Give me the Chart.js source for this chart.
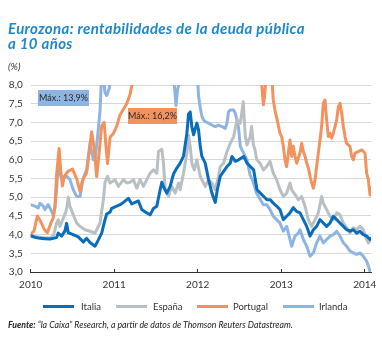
<!DOCTYPE html>
<html>
<head>
<meta charset="utf-8">
<script src="https://cdn.jsdelivr.net/npm/chart.js@4.4.1/dist/chart.umd.min.js"></script>
<style>
  html, body { margin: 0; padding: 0; background: #ffffff; }
  #wrap { position: relative; width: 382px; height: 338px; overflow: hidden; font-family: Lato, "Open Sans", sans-serif; }
  #c { position: absolute; left: 0; top: 0; }
  #title { position: absolute; left: 8px; top: 21px; font-weight: bold; font-style: italic; font-size: 15px; letter-spacing: 0.35px; line-height: 15px; color: #1f88cc; white-space: nowrap; }
  #unit { position: absolute; left: 8px; top: 60px; font-style: italic; font-size: 10px; color: #333; }
  .box { position: absolute; font-size: 9px; color: #2a2a2a; text-align: center; line-height: 16px; white-space: nowrap; }
  #legend { position: absolute; top: 300px; left: 0; width: 382px; height: 14px; font-size: 9.5px; color: #333; }
  .li { position: absolute; top: 0; height: 14px; line-height: 14px; white-space: nowrap; }
  .sw { position: absolute; top: 5px; width: 31px; height: 3px; }
  #foot { position: absolute; left: 8px; top: 319px; font-style: italic; font-size: 9.5px; color: #222; white-space: nowrap; transform: scaleX(0.92); transform-origin: left top; }
</style>
</head>
<body>
<div id="wrap">
  <canvas id="c" width="382" height="338"></canvas>
  <div id="title">Eurozona: rentabilidades de la deuda pública<br>a 10 años</div>
  <div id="unit">(%)</div>
  <div class="box" id="box1" style="left:38px; top:90px; width:51px; height:16px; background:#8db4e2;">Máx.: 13,9%</div>
  <div class="box" id="box2" style="left:128px; top:108px; width:49px; height:16px; background:#f4925e;">Máx.: 16,2%</div>
  <div id="legend"></div>
  <div id="foot"><b>Fuente:</b> “la Caixa” Research, a partir de datos de Thomson Reuters Datastream.</div>
</div>
<script>
// ---- Data (decimal year, yield %) ----
const seriesNames = ["Italia", "España", "Portugal", "Irlanda"];
const yearTicks = [2010, 2011, 2012, 2013, 2014];
const yTicks = [3.0, 3.5, 4.0, 4.5, 5.0, 5.5, 6.0, 6.5, 7.0, 7.5, 8.0];

const italia = [
[2010.00,3.97],[2010.05,3.93],[2010.11,3.90],[2010.17,3.89],[2010.23,3.88],[2010.27,3.90],[2010.31,3.92],[2010.33,4.04],[2010.37,3.96],[2010.41,4.10],[2010.43,4.30],[2010.45,4.05],[2010.51,4.00],[2010.57,3.94],[2010.63,3.80],[2010.67,3.90],[2010.71,3.79],[2010.77,3.69],[2010.81,3.86],[2010.85,4.04],[2010.89,4.40],[2010.91,4.55],[2010.95,4.60],[2010.97,4.70],[2011.03,4.76],[2011.07,4.80],[2011.11,4.86],[2011.17,4.97],[2011.21,4.82],[2011.25,4.86],[2011.29,4.90],[2011.33,4.67],[2011.39,4.58],[2011.43,4.53],[2011.47,4.70],[2011.51,4.76],[2011.55,5.20],[2011.57,5.40],[2011.59,5.28],[2011.63,5.11],[2011.67,5.29],[2011.71,5.62],[2011.75,5.78],[2011.79,5.91],[2011.83,6.10],[2011.87,6.70],[2011.89,7.22],[2011.91,7.28],[2011.93,6.88],[2011.95,6.67],[2011.99,6.98],[2012.01,6.80],[2012.03,6.36],[2012.05,6.09],[2012.09,5.91],[2012.13,5.47],[2012.17,5.11],[2012.19,4.98],[2012.21,4.86],[2012.235,5.20],[2012.27,5.56],[2012.31,5.69],[2012.35,5.82],[2012.39,5.91],[2012.41,6.09],[2012.45,5.96],[2012.49,6.00],[2012.55,6.09],[2012.59,5.91],[2012.63,5.82],[2012.67,5.73],[2012.71,5.20],[2012.75,5.11],[2012.79,5.02],[2012.83,4.93],[2012.87,4.93],[2012.905,4.84],[2012.945,4.76],[2012.985,4.67],[2013.025,4.40],[2013.065,4.49],[2013.105,4.58],[2013.145,4.72],[2013.185,4.62],[2013.225,4.58],[2013.265,4.40],[2013.305,4.22],[2013.345,3.96],[2013.385,4.13],[2013.424,4.22],[2013.464,4.40],[2013.504,4.31],[2013.544,4.22],[2013.584,4.31],[2013.624,4.49],[2013.664,4.40],[2013.704,4.31],[2013.744,4.22],[2013.783,4.13],[2013.823,4.09],[2013.863,4.13],[2013.903,4.04],[2013.943,4.09],[2013.983,4.00],[2014.023,3.96],[2014.063,3.87],[2014.071,3.90]
];

const espana = [
[2010.00,3.96],[2010.05,3.95],[2010.11,3.93],[2010.17,3.91],[2010.23,3.91],[2010.27,3.96],[2010.31,4.31],[2010.33,4.40],[2010.35,4.22],[2010.39,4.44],[2010.43,4.67],[2010.45,5.00],[2010.47,4.76],[2010.51,4.53],[2010.55,4.31],[2010.59,4.22],[2010.65,4.13],[2010.71,4.09],[2010.77,4.04],[2010.83,4.31],[2010.87,4.93],[2010.89,5.40],[2010.92,5.56],[2010.95,5.38],[2011.01,5.47],[2011.05,5.29],[2011.11,5.47],[2011.15,5.38],[2011.19,5.40],[2011.23,5.47],[2011.27,5.24],[2011.31,5.47],[2011.35,5.29],[2011.39,5.47],[2011.43,5.64],[2011.47,5.73],[2011.51,5.64],[2011.53,6.22],[2011.57,6.28],[2011.59,5.91],[2011.61,5.20],[2011.65,5.02],[2011.69,5.29],[2011.73,5.11],[2011.77,5.38],[2011.79,5.20],[2011.83,5.64],[2011.87,6.18],[2011.89,6.65],[2011.91,6.36],[2011.93,5.91],[2011.96,5.73],[2011.99,6.00],[2012.03,5.56],[2012.05,5.47],[2012.09,5.29],[2012.13,5.47],[2012.17,5.38],[2012.21,5.20],[2012.25,5.56],[2012.27,5.82],[2012.31,5.91],[2012.35,6.22],[2012.39,6.44],[2012.43,6.62],[2012.47,7.07],[2012.51,6.98],[2012.545,7.55],[2012.57,6.62],[2012.59,6.40],[2012.626,6.60],[2012.646,6.89],[2012.666,6.40],[2012.686,6.27],[2012.706,6.00],[2012.746,5.91],[2012.786,5.73],[2012.826,5.82],[2012.866,5.96],[2012.905,5.64],[2012.945,5.47],[2012.985,5.20],[2013.025,5.02],[2013.065,5.11],[2013.105,5.38],[2013.125,5.20],[2013.165,5.07],[2013.205,4.93],[2013.245,5.02],[2013.285,4.76],[2013.325,4.40],[2013.365,4.22],[2013.405,4.40],[2013.444,4.58],[2013.484,5.02],[2013.504,4.84],[2013.544,4.67],[2013.584,4.49],[2013.624,4.40],[2013.664,4.58],[2013.704,4.53],[2013.744,4.31],[2013.783,4.18],[2013.823,4.04],[2013.863,4.18],[2013.903,4.13],[2013.943,4.22],[2013.983,4.13],[2014.023,3.87],[2014.043,3.78],[2014.071,3.85]
];

const portugal = [
[2010.00,4.00],[2010.04,4.10],[2010.08,4.50],[2010.12,4.35],[2010.16,4.15],[2010.20,4.05],[2010.24,4.30],[2010.27,4.45],[2010.29,4.75],[2010.31,5.60],[2010.34,6.30],[2010.36,5.70],[2010.38,5.30],[2010.40,5.55],[2010.45,5.70],[2010.50,5.75],[2010.55,5.50],[2010.59,5.15],[2010.62,5.45],[2010.67,5.65],[2010.70,6.20],[2010.73,6.75],[2010.76,6.30],[2010.79,5.55],[2010.82,6.20],[2010.85,6.90],[2010.88,7.00],[2010.90,6.40],[2010.92,5.90],[2010.95,6.60],[2010.99,6.70],[2011.03,6.90],[2011.07,7.20],[2011.11,7.35],[2011.15,7.50],[2011.19,7.75],[2011.22,8.10],[2011.26,8.60],[2011.35,9.50],[2011.45,10.50],[2011.55,11.00],[2011.65,11.50],[2011.75,12.00],[2011.85,12.50],[2011.95,13.50],[2012.08,16.20],[2012.15,14.00],[2012.25,12.00],[2012.35,11.00],[2012.45,10.00],[2012.55,10.50],[2012.65,9.00],[2012.76,8.20],[2012.786,7.47],[2012.80,7.70],[2012.82,8.20],[2012.86,8.30],[2012.89,8.10],[2012.905,7.60],[2012.925,7.33],[2012.96,6.98],[2012.985,6.71],[2013.005,6.62],[2013.025,6.36],[2013.045,6.00],[2013.065,5.82],[2013.085,6.18],[2013.105,6.53],[2013.125,6.09],[2013.145,6.36],[2013.165,6.09],[2013.185,5.91],[2013.225,6.18],[2013.245,6.44],[2013.265,6.22],[2013.285,6.09],[2013.305,5.91],[2013.325,5.78],[2013.345,5.56],[2013.365,5.38],[2013.385,5.24],[2013.405,5.47],[2013.424,5.82],[2013.444,6.18],[2013.464,6.53],[2013.484,6.89],[2013.504,7.51],[2013.524,7.60],[2013.544,7.07],[2013.564,6.62],[2013.584,6.71],[2013.604,6.58],[2013.624,6.71],[2013.664,7.07],[2013.684,7.42],[2013.704,7.51],[2013.724,7.24],[2013.744,6.89],[2013.764,6.62],[2013.783,6.44],[2013.823,6.36],[2013.843,6.09],[2013.863,6.00],[2013.883,6.18],[2013.923,6.22],[2013.963,6.27],[2014.003,6.18],[2014.023,5.64],[2014.043,5.47],[2014.063,5.06],[2014.071,5.25]
];

const irlanda = [
[2010.00,4.80],[2010.05,4.76],[2010.09,4.71],[2010.11,4.84],[2010.15,4.76],[2010.17,4.67],[2010.21,4.80],[2010.25,4.62],[2010.27,4.53],[2010.29,4.71],[2010.31,5.20],[2010.33,5.87],[2010.36,5.56],[2010.39,5.51],[2010.43,5.56],[2010.47,5.47],[2010.51,5.20],[2010.55,5.02],[2010.59,5.02],[2010.63,5.51],[2010.67,5.73],[2010.71,6.44],[2010.75,6.00],[2010.77,6.00],[2010.80,6.60],[2010.83,7.30],[2010.85,8.30],[2010.87,8.20],[2010.89,7.80],[2010.91,7.72],[2010.94,7.90],[2010.97,8.50],[2011.00,9.00],[2011.20,9.50],[2011.40,10.50],[2011.50,12.00],[2011.53,13.90],[2011.60,10.00],[2011.68,8.60],[2011.72,8.00],[2011.74,7.45],[2011.76,7.90],[2011.78,8.05],[2011.82,8.10],[2011.84,8.20],[2011.90,8.60],[2011.96,8.40],[2012.00,8.10],[2012.01,7.70],[2012.03,7.40],[2012.05,7.16],[2012.07,7.07],[2012.09,7.02],[2012.13,6.98],[2012.17,6.93],[2012.21,6.89],[2012.25,6.93],[2012.29,6.89],[2012.33,6.84],[2012.35,6.98],[2012.37,7.29],[2012.39,7.33],[2012.43,7.33],[2012.45,7.24],[2012.47,7.07],[2012.49,6.84],[2012.51,6.36],[2012.55,6.18],[2012.59,6.00],[2012.626,5.60],[2012.666,5.40],[2012.706,5.10],[2012.746,4.95],[2012.786,4.80],[2012.826,4.80],[2012.866,4.67],[2012.905,4.49],[2012.945,4.40],[2012.985,4.31],[2013.025,4.09],[2013.065,4.22],[2013.105,3.87],[2013.125,3.69],[2013.165,3.96],[2013.205,4.04],[2013.225,4.13],[2013.265,3.87],[2013.305,3.69],[2013.345,3.42],[2013.385,3.51],[2013.424,3.78],[2013.464,3.96],[2013.504,3.78],[2013.544,3.87],[2013.584,3.96],[2013.624,4.00],[2013.664,4.09],[2013.704,3.96],[2013.744,3.78],[2013.783,3.69],[2013.823,3.56],[2013.863,3.51],[2013.903,3.47],[2013.943,3.51],[2013.983,3.42],[2014.023,3.29],[2014.043,3.16],[2014.063,3.02],[2014.071,3.00]
];

const seriesColors = ["#0a6dbb", "#b8c0c4", "#f4925e", "#8db4e2"];
const seriesData = [italia, espana, portugal, irlanda];

// ---- HTML legend ----
const legendPos = [[43, 81], [116, 153], [197, 233], [283, 319]];
const legend = document.getElementById('legend');
seriesNames.forEach((n, i) => {
  const sw = document.createElement('div');
  sw.className = 'sw';
  sw.style.left = legendPos[i][0] + 'px';
  sw.style.background = seriesColors[i];
  legend.appendChild(sw);
  const t = document.createElement('div');
  t.className = 'li';
  t.style.left = legendPos[i][1] + 'px';
  t.textContent = n;
  legend.appendChild(t);
});

// ---- Chart ----
const ctx = document.getElementById('c').getContext('2d');
new Chart(ctx, {
  type: 'line',
  data: {
    datasets: seriesNames.map((n, i) => ({
      label: n,
      data: seriesData[i].map(p => ({ x: p[0], y: p[1] })),
      borderColor: seriesColors[i],
      backgroundColor: seriesColors[i],
      borderWidth: 3,
      pointRadius: 0,
      tension: 0,
      borderJoinStyle: 'round',
      borderCapStyle: 'round',
      clip: 0
    }))
  },
  options: {
    responsive: false,
    devicePixelRatio: 1,
    animation: false,
    events: [],
    layout: { padding: { top: 85, left: 0, right: 11, bottom: 46 } },
    plugins: { legend: { display: false }, tooltip: { enabled: false }, title: { display: false } },
    scales: {
      x: {
        type: 'linear',
        min: 2010,
        max: 2014.075,
        afterBuildTicks: s => { s.ticks = yearTicks.map(v => ({ value: v })); },
        afterFit: s => { s.height = 20; s.paddingLeft = 0; s.paddingRight = 0; },
        ticks: {
          callback: v => String(v),
          font: { family: 'Lato', size: 10 },
          color: '#333',
          padding: 10,
          maxRotation: 0,
          autoSkip: false
        },
        grid: { display: true, drawOnChartArea: false, drawTicks: true, tickLength: -3, color: '#333', lineWidth: 1 },
        border: { display: true, color: '#333', width: 1 }
      },
      y: {
        min: 3,
        max: 8,
        afterBuildTicks: s => { s.ticks = yTicks.map(v => ({ value: v })); },
        afterFit: s => { s.width = 30.7; s.paddingTop = 0; s.paddingBottom = 0; },
        ticks: {
          callback: v => Number(v).toFixed(1).replace('.', ','),
          font: { family: 'Lato', size: 10 },
          color: '#333',
          padding: 8
        },
        grid: { color: '#d6d6d6', lineWidth: 1, drawTicks: false },
        border: { display: false }
      }
    }
  }
});
</script>
</body>
</html>
